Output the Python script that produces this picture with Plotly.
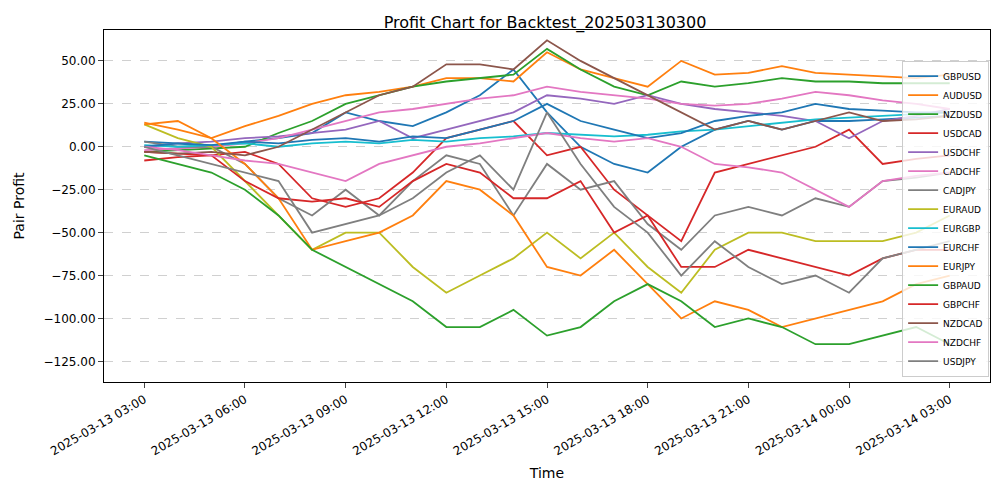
import pandas as pd
import plotly.graph_objects as go

times = pd.date_range("2025-03-13 03:00", "2025-03-14 03:00", freq="1h")

GBPUSD = [3, 2, 0, 3, 5, 8, 20, 15, 12, 20, 30, 45, 20, 0, -10, -15, 0, 10, 15, 10, 15, 15, 16, 17, 18]
AUDUSD = [14, 10, 5, 12, 18, 25, 30, 32, 35, 40, 40, 38, 55, 45, 40, 35, 50, 42, 43, 47, 43, 42, 41, 40, 42]
NZDUSD = [-3, -2, -1, 0, 8, 15, 25, 30, 35, 38, 40, 42, 57, 45, 35, 30, 38, 35, 37, 40, 38, 38, 37, 37, 37]
USDCAD = [-8, -6, -5, -3, -10, -30, -35, -30, -15, 5, 10, 15, -5, 0, -25, -40, -55, -15, -10, -5, 0, 10, -10, -7, -5]
USDCHF = [0, 2, 3, 5, 6, 8, 10, 15, 5, 10, 15, 20, 30, 28, 25, 30, 25, 22, 20, 18, 15, 5, 15, 18, 22]
CADCHF = [-2, -1, 0, 2, 5, 10, 15, 20, 22, 25, 28, 30, 35, 32, 30, 28, 25, 24, 25, 28, 32, 30, 27, 25, 22]
CADJPY = [3, 0, 0, -10, -30, -40, -25, -40, -20, -5, -10, -40, -10, -25, -20, -45, -60, -40, -35, -40, -30, -35, -20, -18, -15]
EURAUD = [13, 5, 0, -20, -40, -60, -50, -50, -70, -85, -75, -65, -50, -65, -50, -70, -85, -60, -50, -50, -55, -55, -55, -50, -40]
EURGBP = [1, 0, 1, 2, 0, 2, 3, 2, 4, 3, 5, 6, 8, 7, 6, 7, 9, 10, 12, 14, 16, 17, 18, 19, 20]
EURCHF = [0, 2, 1, 3, 2, 4, 5, 3, 6, 5, 10, 15, 25, 15, 10, 5, 8, 15, 18, 20, 25, 22, 21, 20, 20]
EURJPY = [13, 15, 5, -10, -30, -60, -55, -50, -40, -20, -25, -40, -70, -75, -60, -80, -100, -90, -95, -105, -100, -95, -90, -80, -75]
GBPAUD = [-5, -10, -15, -25, -40, -60, -70, -80, -90, -105, -105, -95, -110, -105, -90, -80, -90, -105, -100, -105, -115, -115, -110, -105, -115]
GBPCHF = [-3, -4, -5, -20, -30, -32, -30, -35, -20, -10, -15, -30, -30, -20, -50, -40, -70, -70, -60, -65, -70, -75, -65, -60, -60]
NZDCAD = [-3, -4, -3, -5, 0, 10, 20, 30, 35, 48, 48, 45, 62, 50, 40, 30, 20, 10, 15, 10, 15, 20, 15, 16, 18]
NZDCHF = [0, -2, -5, -8, -10, -15, -20, -10, -5, 0, 2, 5, 8, 5, 3, 5, 0, -10, -12, -15, -25, -35, -20, -17, -15]
USDJPY = [0, -5, -10, -15, -20, -50, -45, -40, -30, -15, -5, -25, 20, -10, -35, -50, -75, -55, -70, -80, -75, -85, -65, -60, -55]

series = [
    ("GBPUSD", GBPUSD, "#1f77b4"), ("AUDUSD", AUDUSD, "#ff7f0e"), ("NZDUSD", NZDUSD, "#2ca02c"),
    ("USDCAD", USDCAD, "#d62728"), ("USDCHF", USDCHF, "#9467bd"), ("CADCHF", CADCHF, "#e377c2"),
    ("CADJPY", CADJPY, "#7f7f7f"), ("EURAUD", EURAUD, "#bcbd22"), ("EURGBP", EURGBP, "#17becf"),
    ("EURCHF", EURCHF, "#1f77b4"), ("EURJPY", EURJPY, "#ff7f0e"), ("GBPAUD", GBPAUD, "#2ca02c"),
    ("GBPCHF", GBPCHF, "#d62728"), ("NZDCAD", NZDCAD, "#8c564b"), ("NZDCHF", NZDCHF, "#e377c2"),
    ("USDJPY", USDJPY, "#7f7f7f"),
]

fig = go.Figure()
for name, vals, col in series:
    fig.add_trace(go.Scatter(x=times, y=vals, name=name, mode="lines",
                             line=dict(color=col, width=1.8)))

fig.update_layout(
    width=1000, height=500, plot_bgcolor="white", paper_bgcolor="white",
    font=dict(family="DejaVu Sans", size=12, color="black"),
    title=dict(text="Profit Chart for Backtest_202503130300", x=0.537, xanchor="center",
               y=0.972, yanchor="middle", font=dict(size=16)),
    margin=dict(l=96, r=18, t=22, b=126, autoexpand=False),
    legend=dict(x=0.999, y=0.015, xanchor="right", yanchor="bottom", bordercolor="#ccc",
                borderwidth=1, bgcolor="rgba(255,255,255,0.8)", font=dict(size=9),
                tracegroupgap=0, itemwidth=30),
    showlegend=True,
)
fig.update_xaxes(title_text="Time", tickformat="%Y-%m-%d %H:%M", dtick=3 * 3600 * 1000,
                 tick0="2025-03-13 03:00", tickangle=-30, showgrid=False, showline=True,
                 linecolor="black", mirror=True, ticks="outside", automargin=False,
                 title_standoff=10,
                 range=["2025-03-13 01:48", "2025-03-14 04:12"])
fig.update_yaxes(title_text="Pair Profit", tickformat=".2f", showgrid=True, gridcolor="#d0d0d0",
                 griddash="dash", zeroline=False, showline=True, linecolor="black", mirror=True,
                 ticks="outside", range=[-137, 68], dtick=25, automargin=False)
fig.write_html("out.html")
